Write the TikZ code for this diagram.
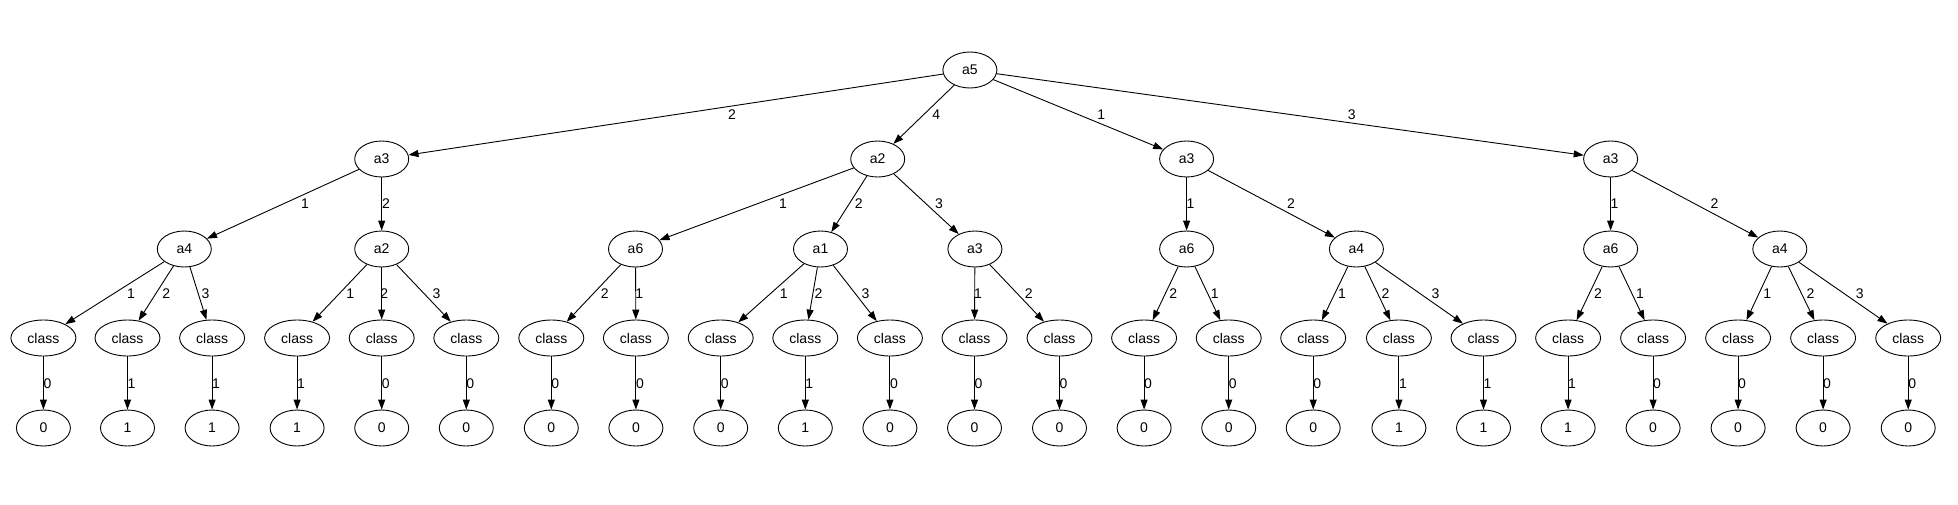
\documentclass[tikz,border=0pt]{standalone}
\usepackage{fontspec}
\setmainfont{Liberation Sans}
\usetikzlibrary{arrows.meta,shapes.geometric}
\newcommand\tedge[5]{\draw[arr] (#1) -- (#2) node[elab] at (#4,#5) {#3};}
\begin{document}
\begin{tikzpicture}[x=1pt,y=-1pt,
  ell/.style={draw,ellipse,line width=0.9pt,minimum width=54pt,minimum height=36pt,inner sep=0pt,font=\fontsize{14}{16}\selectfont},
  cls/.style={ell,minimum width=65pt},
  arr/.style={line width=0.9pt,-{Triangle[length=10pt,width=7pt]}},
  elab/.style={inner sep=0pt,font=\fontsize{14}{16}\selectfont}]
\useasboundingbox (0,0) rectangle (1958,504);
% root
\node[ell] (r) at (969.9,70) {a5};
% level 1
\node[ell] (A) at (381.7,159) {a3};
\node[ell] (B) at (877.7,159) {a2};
\node[ell] (C) at (1186.6,159) {a3};
\node[ell] (D) at (1610.6,159) {a3};
% level 2
\node[ell] (A1) at (184.3,249) {a4};
\node[ell] (A2) at (381.7,249) {a2};
\node[ell] (B1) at (635.5,249) {a6};
\node[ell] (B2) at (820.5,249) {a1};
\node[ell] (B3) at (974.9,249) {a3};
\node[ell] (C1) at (1186.6,249) {a6};
\node[ell] (C2) at (1356.4,249) {a4};
\node[ell] (D1) at (1610.6,249) {a6};
\node[ell] (D2) at (1779.8,249) {a4};
% classes and leaves
\foreach \i/\x/\v in {0/43.4/0,1/127.5/1,2/212.1/1,3/297.1/1,4/381.7/0,5/466.3/0,
  6/551.3/0,7/635.9/0,8/720.7/0,9/805.3/1,10/889.9/0,11/974.5/0,12/1059.5/0,
  13/1144.1/0,14/1228.7/0,15/1313.2/0,16/1398.9/1,17/1483.5/1,18/1568.1/1,
  19/1653.1/0,20/1738.1/0,21/1823.1/0,22/1908.2/0}{
  \node[cls] (c\i) at (\x,338) {class};
  \node[ell] (l\i) at (\x,428) {\v};
  \draw[arr] (c\i) -- (l\i) node[elab] at (\x+4,383.3) {\v};
}
% root edges
\tedge{r}{A}{2}{732}{115}
\tedge{r}{B}{4}{936.2}{115}
\tedge{r}{C}{1}{1101.2}{115}
\tedge{r}{D}{3}{1351.8}{115}
% level 1 edges
\tedge{A}{A1}{1}{305.1}{203.5}
\tedge{A}{A2}{2}{386}{203.5}
\tedge{B}{B1}{1}{783}{203.5}
\tedge{B}{B2}{2}{858.8}{203.5}
\tedge{B}{B3}{3}{939.1}{203.5}
\tedge{C}{C1}{1}{1190.5}{203.5}
\tedge{C}{C2}{2}{1291}{203.5}
\tedge{D}{D1}{1}{1614.5}{203.5}
\tedge{D}{D2}{2}{1714.6}{203.5}
% level 2 edges
\tedge{A1}{c0}{1}{130.9}{293.3}
\tedge{A1}{c1}{2}{166.2}{293.3}
\tedge{A1}{c2}{3}{205.4}{293.3}
\tedge{A2}{c3}{1}{350.2}{293.3}
\tedge{A2}{c4}{2}{384.3}{293.3}
\tedge{A2}{c5}{3}{436.4}{293.3}
\tedge{B1}{c6}{2}{604.8}{293.3}
\tedge{B1}{c7}{1}{639.3}{293.3}
\tedge{B2}{c8}{1}{783.8}{293.3}
\tedge{B2}{c9}{2}{818.4}{293.3}
\tedge{B2}{c10}{3}{865.5}{293.3}
\tedge{B3}{c11}{1}{977.9}{293.3}
\tedge{B3}{c12}{2}{1028.8}{293.3}
\tedge{C1}{c13}{2}{1173.2}{293.3}
\tedge{C1}{c14}{1}{1214.8}{293.3}
\tedge{C2}{c15}{1}{1342.1}{293.3}
\tedge{C2}{c16}{2}{1385.4}{293.3}
\tedge{C2}{c17}{3}{1435.5}{293.3}
\tedge{D1}{c18}{2}{1598}{293.3}
\tedge{D1}{c19}{1}{1640}{293.3}
\tedge{D2}{c20}{1}{1767.2}{293.3}
\tedge{D2}{c21}{2}{1810.5}{293.3}
\tedge{D2}{c22}{3}{1859.8}{293.3}
\end{tikzpicture}
\end{document}
